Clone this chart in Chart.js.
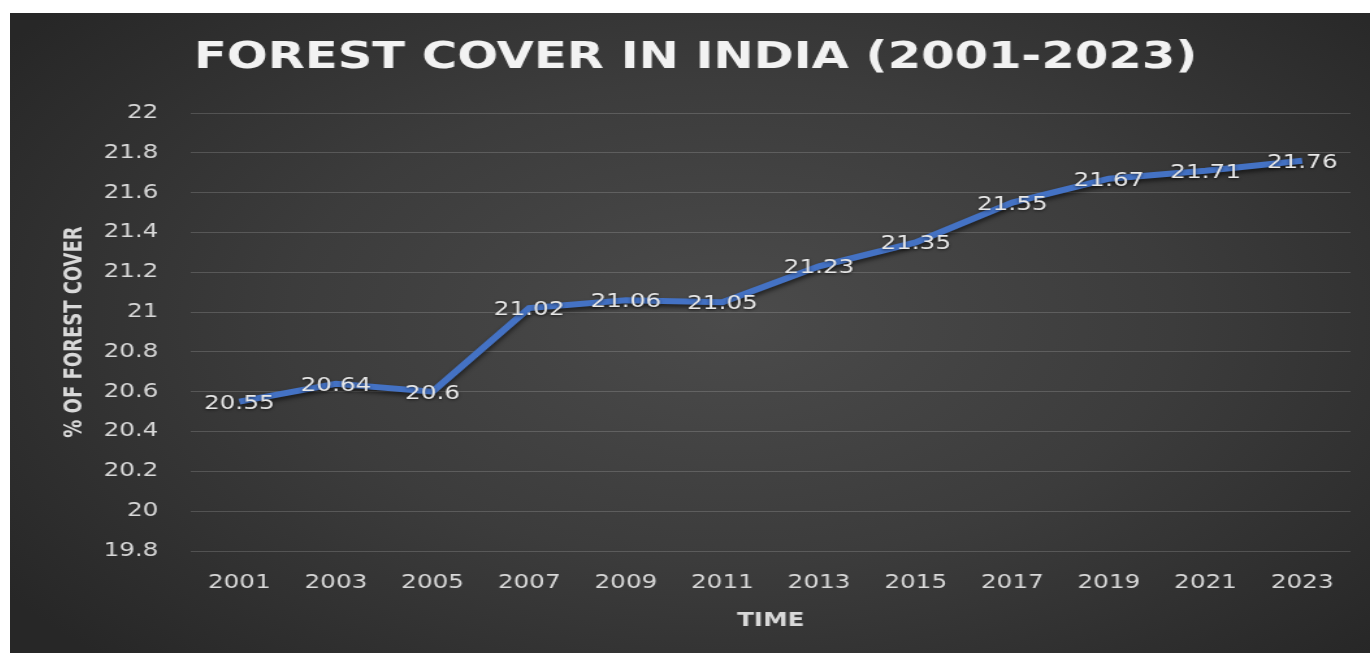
<!DOCTYPE html>
<html>
<head>
<meta charset="utf-8">
<script src="https://cdn.jsdelivr.net/npm/chart.js@4/dist/chart.umd.min.js"></script>
<style>
    html, body { margin: 0; padding: 0; background: #ffffff; }
    .chart-box {
        position: absolute;
        left: 10px;
        top: 13px;
        width: 1360px;
        height: 640px;
        overflow: hidden;
        background: radial-gradient(ellipse 65% 75% at 53% 48%, #4b4b4b 0%, #3c3c3c 50%, #272727 100%);
    }
    /* the source picture is stretched sideways, so the canvas is too */
    #forestChart {
        position: absolute;
        left: 0;
        top: 0;
        transform: scaleX(1.3002);
        transform-origin: 0 0;
    }
</style>
</head>
<body>
<div class="chart-box">
    <canvas id="forestChart" width="1046" height="640"></canvas>
</div>

<script>
const years = ["2001", "2003", "2005", "2007", "2009", "2011", "2013", "2015", "2017", "2019", "2021", "2023"];
const forestCover = [20.55, 20.64, 20.6, 21.02, 21.06, 21.05, 21.23, 21.35, 21.55, 21.67, 21.71, 21.76];
const yTicks = [19.8, 20, 20.2, 20.4, 20.6, 20.8, 21, 21.2, 21.4, 21.6, 21.8, 22];

const TEXT_COLOR = "#d9d9d9";

// shadow under the line, like the office chart style
const lineShadow = {
    id: "lineShadow",
    beforeDatasetDraw(chart) {
        const ctx = chart.ctx;
        ctx.save();
        ctx.shadowColor = "rgba(0,0,0,0.55)";
        ctx.shadowBlur = 4;
        ctx.shadowOffsetY = 3;
    },
    afterDatasetDraw(chart) {
        chart.ctx.restore();
    }
};

// value labels centred on each point
const valueLabels = {
    id: "valueLabels",
    afterDatasetsDraw(chart) {
        const ctx = chart.ctx;
        const meta = chart.getDatasetMeta(0);
        const values = chart.data.datasets[0].data;

        ctx.save();
        ctx.font = "19px 'DejaVu Sans'";
        ctx.textAlign = "center";
        ctx.textBaseline = "middle";
        ctx.fillStyle = "#e8e8e8";
        ctx.shadowColor = "rgba(0,0,0,0.6)";
        ctx.shadowBlur = 3;
        ctx.shadowOffsetY = 1;

        meta.data.forEach((pt, i) => {
            ctx.fillText(String(values[i]), pt.x, pt.y + 2);
        });

        ctx.restore();
    }
};

function renderChart() {

    const ctx = document.getElementById("forestChart").getContext("2d");

    new Chart(ctx, {
        type: "line",
        data: {
            labels: years,
            datasets: [{
                label: "% of forest cover",
                data: forestCover,
                borderColor: "#4472c4",
                borderWidth: 6,
                pointRadius: 0,
                pointHoverRadius: 0,
                tension: 0,
                fill: false
            }]
        },
        options: {
            responsive: false,
            animation: false,
            layout: {
                padding: { left: 23.6, right: 15, top: 0, bottom: 0 }
            },
            plugins: {
                legend: { display: false },
                tooltip: { enabled: false },
                title: {
                    display: true,
                    text: "FOREST COVER IN INDIA (2001-2023)",
                    color: "#f2f2f2",
                    font: { family: "'DejaVu Sans'", size: 37, weight: "bold", lineHeight: 1.2 },
                    padding: { top: 23, bottom: 32.6 }
                }
            },
            scales: {
                x: {
                    offset: true,
                    grid: { display: false, drawTicks: false },
                    border: { display: false },
                    ticks: {
                        color: TEXT_COLOR,
                        font: { family: "'DejaVu Sans'", size: 19 },
                        padding: 21,
                        maxRotation: 0,
                        autoSkip: false
                    },
                    title: {
                        display: true,
                        text: "TIME",
                        color: TEXT_COLOR,
                        font: { family: "'DejaVu Sans'", size: 19, weight: "bold", lineHeight: 1.2 },
                        padding: { top: 0, bottom: 21 }
                    },
                    afterFit(scale) {
                        scale.height = 102;
                    }
                },
                y: {
                    min: 19.8,
                    max: 22,
                    grid: {
                        color: "rgba(255,255,255,0.16)",
                        lineWidth: 1,
                        drawTicks: false
                    },
                    border: { display: false },
                    afterBuildTicks(scale) {
                        scale.ticks = yTicks.map(v => ({ value: v }));
                    },
                    ticks: {
                        color: TEXT_COLOR,
                        font: { family: "'DejaVu Sans'", size: 19 },
                        padding: 25,
                        callback: v => String(Math.round(v * 10) / 10)
                    },
                    title: {
                        display: true,
                        text: "% OF FOREST COVER",
                        color: TEXT_COLOR,
                        font: { family: "'Liberation Sans Narrow', 'DejaVu Sans Condensed', sans-serif", size: 20, weight: "bold", lineHeight: 1.2 },
                        padding: { top: 14.4, bottom: 0 }
                    },
                    afterFit(scale) {
                        scale.width = 115.6;
                    }
                }
            }
        },
        plugins: [lineShadow, valueLabels]
    });
}

renderChart();
</script>
</body>
</html>
